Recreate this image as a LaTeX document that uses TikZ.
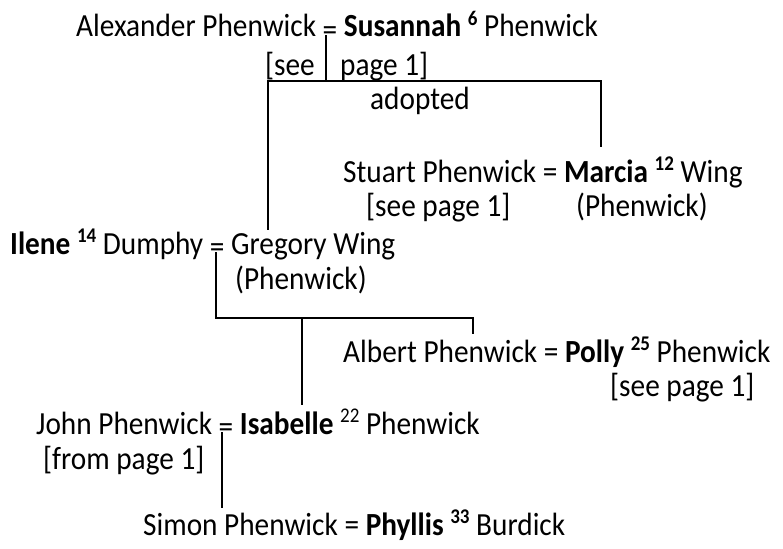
\documentclass[tikz,border=0pt]{standalone}
\usepackage{fontspec}
\usepackage{graphicx}
\setmainfont{Carlito}
\newcommand\suprg[1]{\raisebox{0.36em}{\fontsize{19}{19}\selectfont #1}}
\newcommand\supbd[1]{\raisebox{0.36em}{\fontsize{19}{19}\selectfont\bfseries #1}}
\newcommand\loweq{\raisebox{-3pt}{=}}
\newcommand\tall[1]{\scalebox{1}[1.1]{#1}}
\tikzset{
  person/.style={anchor=base west, inner sep=0pt, font=\fontsize{29.3}{35}\selectfont},
  link/.style={line width=2pt, line cap=rect}
}
\begin{document}
\begin{tikzpicture}[x=1pt,y=-1pt]
\useasboundingbox (0,0) rectangle (783,548);
% generation 1
\node[person] (alex) at (76,37) {\tall{Alexander Phenwick \loweq{} \textbf{Susannah} \supbd{6} Phenwick}};
\node[person] (alexsee) at (265,76) {\tall{[see}};
\node[person] (alexpage) at (340,76) {\tall{page 1]}};
\node[person] (adopted) at (370,110) {\tall{adopted}};
% generation 2
\node[person] (stuart) at (343,182) {\tall{Stuart Phenwick = \textbf{Marcia} \supbd{12} Wing}};
\node[person] (stuartsee) at (366,216) {\tall{[see page 1]}};
\node[person] (marciaph) at (576,216) {\tall{(Phenwick)}};
\node[person] (ilene) at (10,254) {\tall{\textbf{Ilene} \supbd{14} Dumphy \loweq{} Gregory Wing}};
\node[person] (gregph) at (235,289) {\tall{(Phenwick)}};
% generation 3
\node[person] (albert) at (343,362) {\tall{Albert Phenwick = \textbf{Polly} \supbd{25} Phenwick}};
\node[person] (pollysee) at (610,396) {\tall{[see page 1]}};
\node[person] (john) at (36,434) {\tall{John Phenwick \loweq{} \textbf{Isabelle} \suprg{22} Phenwick}};
\node[person] (johnfrom) at (43,469) {\tall{[from page 1]}};
% generation 4
\node[person] (simon) at (143,535) {\tall{Simon Phenwick = \textbf{Phyllis} \supbd{33} Burdick}};
% junction coordinates
\coordinate (aeq) at (326,36);
\coordinate (abar) at (326,81);
\coordinate (bl) at (268,81);
\coordinate (br) at (601,81);
\coordinate (greg) at (268,229);
\coordinate (marcia) at (601,146);
\coordinate (ieq) at (216,253);
\coordinate (il) at (216,318);
\coordinate (ir) at (473,318);
\coordinate (ib) at (302,318);
\coordinate (polly) at (473,333);
\coordinate (isab) at (302,404);
\coordinate (jeq) at (222,433);
\coordinate (sim) at (222,507);
% connectors
\draw[link] (aeq) -- (abar);
\draw[link] (greg) -- (bl) -- (br) -- (marcia);
\draw[link] (ieq) -- (il) -- (ir) -- (polly);
\draw[link] (ib) -- (isab);
\draw[link] (jeq) -- (sim);
\end{tikzpicture}
\end{document}
